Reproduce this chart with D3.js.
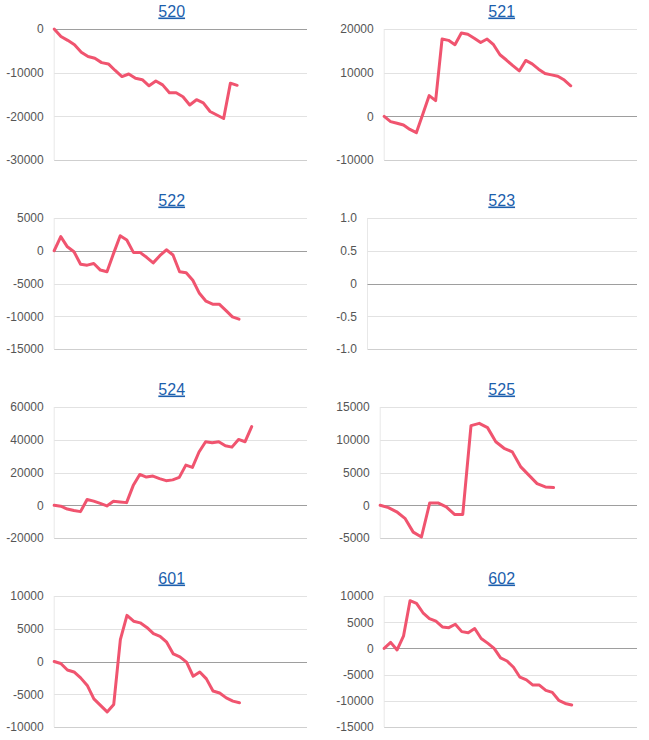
<!DOCTYPE html>
<html><head><meta charset="utf-8">
<script src="https://cdn.jsdelivr.net/npm/d3@7"></script>
<style>
body{margin:0;background:#fff;}
svg{display:block;font-family:Arial,"Liberation Sans",sans-serif;}
</style>
</head><body>
<svg id="chart" width="649" height="740"></svg>
<script>
// ---- data ----
const titles = ["520","521","522","523","524","525","601","602"];

const s520 = [0,-1700,-2600,-3600,-5300,-6300,-6700,-7700,-8000,-9500,-10900,-10300,-11300,-11600,-13000,-11900,-12800,-14600,-14600,-15500,-17400,-16200,-16900,-18900,-19700,-20500,-12400,-12900];
const s521 = [0,-1200,-1600,-2000,-3000,-3750,500,4750,3600,17700,17400,16400,19100,18800,17900,16900,17700,16400,14100,12900,11600,10400,12800,12000,10800,9800,9500,9200,8300,7000];
const s522 = [0,2150,600,-150,-2050,-2200,-1950,-2950,-3200,-400,2300,1650,-250,-250,-1000,-1850,-750,150,-650,-3200,-3350,-4500,-6500,-7700,-8150,-8150,-9100,-10100,-10450];
const s523 = [];
const s524 = [0,-600,-2300,-3200,-3900,3500,2500,1100,-400,2400,2000,1600,12000,18800,17200,17800,16300,15000,15500,17000,24500,23100,32500,38800,38200,38800,36300,35500,40200,38800,48000];
const s525 = [0,-360,-1000,-2000,-4100,-4850,350,350,-250,-1400,-1400,12150,12500,11850,9700,8700,8150,5900,4600,3300,2800,2700];
const s601 = [0,-300,-1300,-1600,-2500,-3650,-5700,-6700,-7700,-6550,3350,7050,6150,5900,5200,4250,3850,2950,1150,700,-100,-2250,-1600,-2650,-4500,-4800,-5550,-6050,-6300];
const s602 = [0,1150,-300,2400,9100,8600,6800,5700,5200,4100,3950,4600,3200,3000,3800,1900,1000,0,-1800,-2400,-3600,-5500,-6000,-7000,-7000,-8000,-8400,-9900,-10500,-10800];

const ticks520 = [0,-10000,-20000,-30000];
const ticks521 = [20000,10000,0,-10000];
const ticks522 = [5000,0,-5000,-10000,-15000];
const ticks523 = [1,0.5,0,-0.5,-1];
const ticks524 = [60000,40000,20000,0,-20000];
const ticks525 = [15000,10000,5000,0,-5000];
const ticks601 = [10000,5000,0,-5000,-10000];
const ticks602 = [10000,5000,0,-5000,-10000,-15000];

// x-axis extent (in data-point index units) for each panel
const xExtent = [37.3,39.3,38.3,38,38.4,31.1,38.2,39.1];

const seriesList = [s520,s521,s522,s523,s524,s525,s601,s602];
const tickList = [ticks520,ticks521,ticks522,ticks523,ticks524,ticks525,ticks601,ticks602];

// ---- drawing ----
const svg = d3.select("#chart");
const colW = 330, rowH = 189;
const lineColor = "#f0546f";

function fmt(v, ticks){
  if (v === 0) return "0";
  const maxAbs = d3.max(ticks, t => Math.abs(t));
  return maxAbs < 10 ? v.toFixed(1) : String(v);
}

// measure label widths
const meas = svg.append("text").attr("font-size", 12).attr("visibility","hidden");
function textW(s){ meas.text(s); return meas.node().getComputedTextLength(); }

titles.forEach((title, i) => {
  const col = i % 2, row = Math.floor(i / 2);
  const cx = col * colW, cy = row * rowH;
  const ticks = tickList[i];
  const data = seriesList[i];
  const labels = ticks.map(t => fmt(t, ticks));
  const maxW = d3.max(labels, textW);
  const left = cx + 6.3 + maxW + 10.5;
  const right = cx + 307;
  const top = cy + 29, bottom = cy + 160;

  const g = svg.append("g");

  const y = d3.scaleLinear().domain(d3.extent(ticks)).range([bottom, top]);
  const x = d3.scaleLinear().domain([0, xExtent[i]]).range([left, right]);

  // title
  g.append("text")
    .attr("x", cx + 171.7).attr("y", cy + 16.5)
    .attr("text-anchor", "middle")
    .attr("font-size", 16)
    .attr("fill", "#1d5fad")
    .style("text-decoration", "underline")
    .text(title);

  // vertical left axis line
  g.append("line")
    .attr("x1", left).attr("x2", left)
    .attr("y1", top).attr("y2", bottom)
    .attr("stroke", "#e8e8e8").attr("stroke-width", 1);

  // gridlines
  const minT = d3.min(ticks);
  g.selectAll("line.grid").data(ticks).join("line")
    .attr("class", "grid")
    .attr("x1", left).attr("x2", right)
    .attr("y1", d => Math.round(y(d)) + 0.5).attr("y2", d => Math.round(y(d)) + 0.5)
    .attr("stroke", d => d === 0 ? "#9e9e9e" : (d === minT ? "#cfcfcf" : "#e2e2e2"))
    .attr("stroke-width", 1);

  // tick labels via axis
  const axis = d3.axisLeft(y).tickValues(ticks).tickSize(0).tickPadding(0)
    .tickFormat(d => fmt(d, ticks));
  const ag = g.append("g").attr("transform", `translate(${left - 10.5},0)`).call(axis);
  ag.select(".domain").remove();
  ag.selectAll("text")
    .attr("font-size", 12)
    .attr("font-family", "Arial, 'Liberation Sans', sans-serif")
    .attr("fill", "#555");

  // series line
  if (data.length) {
    const line = d3.line().x((d, k) => x(k)).y(d => y(d));
    g.append("path")
      .datum(data)
      .attr("d", line)
      .attr("fill", "none")
      .attr("stroke", lineColor)
      .attr("stroke-width", 3)
      .attr("stroke-linejoin", "round")
      .attr("stroke-linecap", "round");
  }
});
meas.remove();
</script>
</body></html>
